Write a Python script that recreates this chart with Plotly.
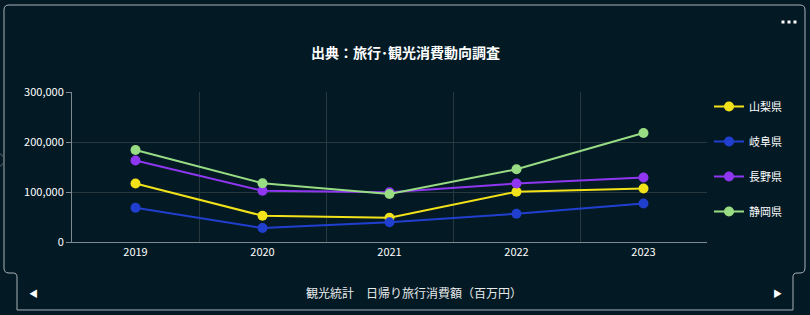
import plotly.graph_objects as go

years = ["2019", "2020", "2021", "2022", "2023"]
yamanashi = [117000, 52500, 48500, 100500, 107000]
gifu = [68500, 28000, 39500, 56500, 77000]
nagano = [163000, 102500, 99500, 117000, 129000]
shizuoka = [184000, 117500, 96000, 145500, 218000]

series = [
    ("山梨県", yamanashi, "#f2e21a"),
    ("岐阜県", gifu, "#213fce"),
    ("長野県", nagano, "#8f37f0"),
    ("静岡県", shizuoka, "#98dc84"),
]

W, H = 810, 315
L, R, T, B = 72, 707, 92, 242
FONT = "Noto Sans CJK JP"
BG = "#031a25"


def px(x):
    return (x - L) / (R - L)


def py(y):
    return (B - y) / (B - T)


def P(x, y):
    return f"{px(x):.5f},{py(y):.5f}"


fig = go.Figure()
for i, (name, vals, col) in enumerate(series):
    fig.add_trace(go.Scatter(
        x=years, y=vals, name=name, mode="lines+markers",
        line=dict(color=col, width=2),
        marker=dict(color=col, size=10),
        legendgroup=f"g{i}",
    ))

card = (
    f"M {P(4,10)} Q {P(4,5)} {P(9,5)} L {P(800,5)} Q {P(805,5)} {P(805,10)} "
    f"L {P(805,268)} Q {P(805,273)} {P(800,273)} L {P(797,273)} Q {P(793,273)} {P(793,277)} "
    f"L {P(793,310)} L {P(17,310)} L {P(17,277)} Q {P(17,273)} {P(13,273)} "
    f"L {P(9,273)} Q {P(4,273)} {P(4,268)} Z"
)
shapes = [
    dict(type="path", xref="paper", yref="paper", path=card,
         line=dict(color="#a9b0b5", width=1), fillcolor="rgba(0,0,0,0)", layer="below"),
    dict(type="circle", xref="paper", yref="paper",
         x0=px(-10), x1=px(4), y0=py(153), y1=py(167),
         line=dict(color="#5a666d", width=1)),
]
for cx in (783, 789, 795):
    shapes.append(dict(type="rect", xref="paper", yref="paper",
                       x0=px(cx - 1.5), x1=px(cx + 1.5), y0=py(23.5), y1=py(20.5),
                       fillcolor="#ffffff", line=dict(width=0)))

annotations = [
    dict(text="<b>出典：旅行･観光消費動向調査</b>", x=px(405), y=py(52), xref="paper", yref="paper",
         showarrow=False, font=dict(family=FONT, size=14, color="#ffffff"),
         xanchor="center", yanchor="middle"),
    dict(text="観光統計　日帰り旅行消費額（百万円）", x=px(414), y=py(292), xref="paper", yref="paper",
         showarrow=False, font=dict(family=FONT, size=12, color="#e8eaeb"),
         xanchor="center", yanchor="middle"),
    dict(text="◀", x=px(33), y=py(293), xref="paper", yref="paper", showarrow=False,
         font=dict(family=FONT, size=9, color="#ffffff"), xanchor="center", yanchor="middle"),
    dict(text="▶", x=px(777), y=py(293), xref="paper", yref="paper", showarrow=False,
         font=dict(family=FONT, size=9, color="#ffffff"), xanchor="center", yanchor="middle"),
]

fig.update_layout(
    width=W, height=H,
    margin=dict(l=L, r=W - R, t=T, b=H - B),
    paper_bgcolor=BG, plot_bgcolor=BG,
    font=dict(family=FONT, color="#ffffff", size=11),
    shapes=shapes, annotations=annotations,
    showlegend=True,
    legend=dict(x=px(709), y=py(92), xanchor="left", yanchor="top",
                font=dict(family=FONT, size=11, color="#ffffff"),
                bgcolor="rgba(0,0,0,0)", tracegroupgap=16, itemwidth=30),
    xaxis=dict(type="category", tickson="boundaries", showgrid=True,
               gridcolor="#27383f", gridwidth=1, showline=True, linecolor="#7f8a90",
               ticks="", tickfont=dict(size=11, color="#ffffff"),
               range=[-0.5, 4.5], zeroline=False, fixedrange=True),
    yaxis=dict(range=[0, 300000], tickvals=[0, 100000, 200000, 300000], tickformat=",",
               showgrid=True, gridcolor="#27383f", gridwidth=1, showline=True,
               linecolor="#7f8a90", ticks="outside", ticklen=5, tickcolor="#7f8a90",
               tickfont=dict(size=11, color="#ffffff"), zeroline=False),
)

fig.write_html("out.html")
